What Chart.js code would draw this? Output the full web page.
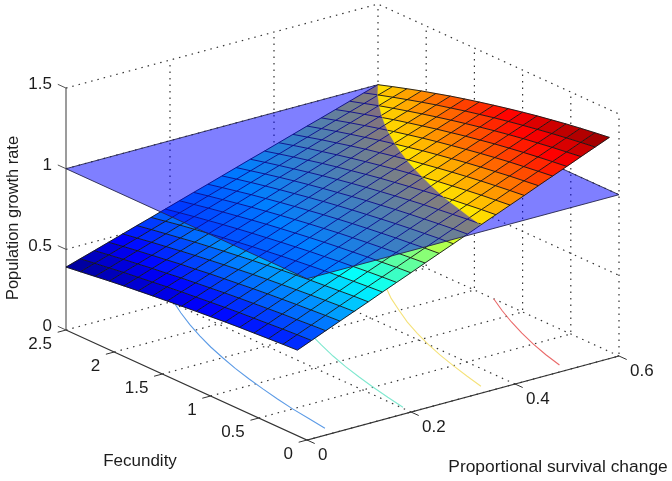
<!DOCTYPE html>
<html>
<head>
<meta charset="utf-8">
<title>Population growth rate</title>
<script src="https://cdn.jsdelivr.net/npm/chart.js@4"></script>
<style>
  html, body { margin: 0; padding: 0; background: #fff; }
  canvas { display: block; }
</style>
</head>
<body>
<canvas id="surfaceChart" width="672" height="481"></canvas>
<script>
// Values
const survival = [0, .0273, .0545, .0818, .1091, .1364, .1636, .1909, .2182, .2455, .2727, .3,
  .3273, .3545, .3818, .4091, .4364, .4636, .4909, .5182, .5455, .5727, .6];
const fecundity = [0.1, 0.25, 0.4, 0.55, 0.7, 0.85, 1, 1.15, 1.3, 1.45, 1.6, 1.75, 1.9, 2.05, 2.2, 2.35, 2.5];

// growth[fecundity index][survival index]
const growth = [
  [.530,.566,.603,.639,.675,.711,.748,.784,.820,.857,.893,.929,.965,1.002,1.038,1.074,1.110,1.147,1.183,1.219,1.256,1.292,1.328],
  [.525,.561,.597,.633,.669,.705,.741,.777,.813,.849,.885,.921,.957,.993,1.029,1.064,1.100,1.136,1.172,1.208,1.244,1.280,1.316],
  [.519,.555,.590,.626,.662,.697,.733,.769,.804,.840,.875,.911,.947,.982,1.018,1.054,1.089,1.125,1.160,1.196,1.232,1.267,1.303],
  [.513,.548,.584,.619,.654,.689,.725,.760,.795,.830,.866,.901,.936,.971,1.007,1.042,1.077,1.112,1.148,1.183,1.218,1.253,1.289],
  [.507,.541,.576,.611,.646,.681,.716,.751,.785,.820,.855,.890,.925,.960,.995,1.029,1.064,1.099,1.134,1.169,1.204,1.238,1.273],
  [.500,.534,.568,.603,.637,.672,.706,.740,.775,.809,.844,.878,.913,.947,.981,1.016,1.050,1.085,1.119,1.154,1.188,1.222,1.257],
  [.492,.526,.560,.594,.628,.662,.696,.730,.764,.798,.832,.865,.899,.933,.967,1.001,1.035,1.069,1.103,1.137,1.171,1.205,1.239],
  [.484,.517,.551,.584,.618,.651,.685,.718,.752,.785,.819,.852,.886,.919,.952,.986,1.019,1.053,1.086,1.120,1.153,1.187,1.220],
  [.475,.508,.541,.574,.607,.640,.673,.706,.739,.772,.805,.838,.871,.904,.937,.970,1.003,1.036,1.069,1.101,1.134,1.167,1.200],
  [.466,.499,.531,.564,.596,.628,.661,.693,.726,.758,.790,.823,.855,.888,.920,.952,.985,1.017,1.050,1.082,1.114,1.147,1.179],
  [.457,.489,.521,.552,.584,.616,.648,.680,.712,.743,.775,.807,.839,.871,.902,.934,.966,.998,1.030,1.061,1.093,1.125,1.157],
  [.447,.478,.509,.541,.572,.603,.634,.666,.697,.728,.759,.790,.822,.853,.884,.915,.947,.978,1.009,1.040,1.071,1.103,1.134],
  [.437,.467,.498,.528,.559,.590,.620,.651,.681,.712,.742,.773,.804,.834,.865,.895,.926,.956,.987,1.018,1.048,1.079,1.109],
  [.426,.456,.485,.515,.545,.575,.605,.635,.665,.695,.725,.755,.785,.814,.844,.874,.904,.934,.964,.994,1.024,1.054,1.084],
  [.414,.443,.473,.502,.531,.560,.590,.619,.648,.677,.706,.736,.765,.794,.823,.853,.882,.911,.940,.969,.999,1.028,1.057],
  [.402,.431,.459,.488,.516,.545,.573,.602,.630,.659,.687,.716,.744,.773,.801,.830,.858,.887,.915,.944,.972,1.001,1.029],
  [.390,.418,.445,.473,.501,.529,.556,.584,.612,.640,.667,.695,.723,.751,.778,.806,.834,.862,.889,.917,.945,.973,1.000]
];

// Contours on the floor: survival value at each fecundity
const contourFecundity = [0.1, 0.3, 0.5, 0.7, 0.9, 1.1, 1.3, 1.5, 1.7, 1.9, 2.1, 2.3, 2.5];
const contour06 = [.053, .059, .065, .073, .082, .092, .103, .116, .130, .146, .164, .184, .206];
const contour08 = [.203, .211, .220, .230, .241, .254, .269, .285, .304, .324, .347, .374, .403];
const contour10 = [.353, .363, .374, .386, .400, .416, .434, .455, .477, .503, .531, .563, .600];
const contour12 = [.504, .515, .528, .543, .560, .579, .600];

const planeSurvival = [0, 0.6, 0.6, 0];
const planeFecundity = [0, 0, 2.5, 2.5];
const planeLevel = 1;

const survivalTicks = [0, 0.2, 0.4, 0.6];
const fecundityTicks = [0, 0.5, 1, 1.5, 2, 2.5];
const growthTicks = [0, 0.5, 1, 1.5];

const survivalLabels = ["0", "0.2", "0.4", "0.6"];
const fecundityLabels = ["0", "0.5", "1", "1.5", "2", "2.5"];
const growthLabels = ["0", "0.5", "1", "1.5"];

const colorMin = 0.37;
const colorMax = 1.327;

// fixed 3d view, same for everything on the page
function project(s, f, z) {
  return {
    x: 307 + 520 * s - 96.4 * f,
    y: 440 - 140 * s - 44 * f - 161.3 * z
  };
}

function jet(v) {
  const t = Math.min(1, Math.max(0, (v - colorMin) / (colorMax - colorMin)));
  const r = Math.min(1, Math.max(0, Math.min(4 * t - 1.5, 4.5 - 4 * t)));
  const g = Math.min(1, Math.max(0, Math.min(4 * t - 0.5, 3.5 - 4 * t)));
  const b = Math.min(1, Math.max(0, Math.min(4 * t + 0.5, 2.5 - 4 * t)));
  return "rgb(" + Math.round(r * 255) + "," + Math.round(g * 255) + "," + Math.round(b * 255) + ")";
}

// Layers are collected bottom first
const layers = [];

function addLine(points, color, width, dash) {
  layers.push({
    data: points.map(p => project(p[0], p[1], p[2])),
    showLine: true,
    fill: false,
    borderColor: color,
    borderWidth: width,
    borderDash: dash || [],
    pointRadius: 0
  });
}

function addShape(points, color, edge, width) {
  const closed = points.concat([points[0]]);
  layers.push({
    data: closed.map(p => project(p[0], p[1], p[2])),
    showLine: true,
    fill: "shape",
    backgroundColor: color,
    borderColor: edge,
    borderWidth: width,
    pointRadius: 0
  });
}

function crossing(a, b) {
  const t = (planeLevel - a[2]) / (b[2] - a[2]);
  return [a[0] + t * (b[0] - a[0]), a[1] + t * (b[1] - a[1]), planeLevel];
}

// keep the part of a cell on one side of the flat plane
function clipCell(points, above) {
  const keep = p => above ? p[2] >= planeLevel : p[2] <= planeLevel;
  const out = [];
  points.forEach((p, i) => {
    const q = points[(i + 1) % points.length];
    if (keep(p)) out.push(p);
    if (keep(p) !== keep(q)) out.push(crossing(p, q));
  });
  return out;
}

function clipRun(points, above) {
  const keep = p => above ? p[2] >= planeLevel : p[2] <= planeLevel;
  const out = [];
  points.forEach((p, i) => {
    if (keep(p)) out.push(p);
    if (i < points.length - 1 && keep(p) !== keep(points[i + 1])) out.push(crossing(p, points[i + 1]));
  });
  return out;
}

function addSurfacePart(above) {
  // flat coloured cells
  for (let j = 0; j < fecundity.length - 1; j++) {
    for (let i = 0; i < survival.length - 1; i++) {
      const cell = [
        [survival[i], fecundity[j], growth[j][i]],
        [survival[i + 1], fecundity[j], growth[j][i + 1]],
        [survival[i + 1], fecundity[j + 1], growth[j + 1][i + 1]],
        [survival[i], fecundity[j + 1], growth[j + 1][i]]
      ];
      const part = clipCell(cell, above);
      const color = jet(growth[j][i]);
      if (part.length > 2) addShape(part, color, color, 0.4);
    }
  }
  // mesh lines
  for (let j = 0; j < fecundity.length; j++) {
    const run = clipRun(survival.map((s, i) => [s, fecundity[j], growth[j][i]]), above);
    if (run.length > 1) addLine(run, "#141414", 0.9);
  }
  for (let i = 0; i < survival.length; i++) {
    const run = clipRun(fecundity.map((f, j) => [survival[i], f, growth[j][i]]), above);
    if (run.length > 1) addLine(run, "#141414", 0.9);
  }
}

// dotted grid
const dots = [1.5, 5];
const gridColor = "#333333";
const topZ = growthTicks[growthTicks.length - 1];
const lastS = survivalTicks[survivalTicks.length - 1];
const lastF = fecundityTicks[fecundityTicks.length - 1];

survivalTicks.forEach(s => {
  if (s > 0) addLine([[s, 0, 0], [s, lastF, 0], [s, lastF, topZ]], gridColor, 1.2, dots);
});
fecundityTicks.forEach(f => {
  if (f < lastF) addLine([[0, f, 0], [lastS, f, 0], [lastS, f, topZ]], gridColor, 1.2, dots);
});
growthTicks.forEach(z => {
  if (z > 0) addLine([[0, lastF, z], [lastS, lastF, z], [lastS, 0, z]], gridColor, 1.2, dots);
});
addLine([[0, lastF, 0], [lastS, lastF, 0]], gridColor, 1.2, dots);

// contours on the floor
addLine(contour06.map((s, k) => [s, contourFecundity[k], 0]), "#5c9be6", 1.1);
addLine(contour08.map((s, k) => [s, contourFecundity[k], 0]), "#7fe8cf", 1.1);
addLine(contour10.map((s, k) => [s, contourFecundity[k], 0]), "#f5e27a", 1.1);
addLine(contour12.map((s, k) => [s, contourFecundity[k], 0]), "#ea6a6a", 1.1);

// axes and tick marks
addLine([[0, lastF, 0], [0, lastF, topZ]], "#5a5a5a", 1.2);
addLine([[0, lastF, 0], [0, 0, 0], [lastS, 0, 0]], "#333333", 1.2);
growthTicks.forEach(z => addLine([[0, lastF, z], [0, lastF + 0.085, z]], "#555555", 1));
fecundityTicks.forEach(f => addLine([[0, f, 0], [-0.016, f, 0]], "#333333", 1));
survivalTicks.forEach(s => addLine([[s, 0, 0], [s, -0.08, 0]], "#333333", 1));

// surface under the plane, then the plane, then surface above it
addSurfacePart(false);
addShape(planeSurvival.map((s, k) => [s, planeFecundity[k], planeLevel]),
  "rgba(0,0,255,0.5)", "#26264d", 0.9);
addSurfacePart(true);

// Tick labels and axis titles
const labelsPlugin = {
  id: "labels3d",
  afterDraw(chart) {
    const { ctx, scales } = chart;
    const at = p => ({ x: scales.x.getPixelForValue(p.x), y: scales.y.getPixelForValue(p.y) });
    ctx.save();
    ctx.fillStyle = "#1c1c1c";
    ctx.font = "17px 'Liberation Sans'";
    ctx.textBaseline = "middle";

    ctx.textAlign = "right";
    growthTicks.forEach((z, k) => {
      const p = at(project(0, lastF, z));
      ctx.fillText(growthLabels[k], p.x - 14, p.y - 3.5);
    });
    fecundityTicks.forEach((f, k) => {
      const p = at(project(0, f, 0));
      ctx.fillText(fecundityLabels[k], p.x - 14, p.y + 14);
    });

    ctx.textAlign = "left";
    survivalTicks.forEach((s, k) => {
      const p = at(project(s, 0, 0));
      ctx.fillText(survivalLabels[k], p.x + 11, p.y + 15);
    });

    ctx.textAlign = "center";
    ctx.fillText("Fecundity", 140, 461);
    ctx.font = "17.4px 'Liberation Sans'";
    ctx.fillText("Proportional survival change", 558, 467);
    ctx.font = "16.4px 'Liberation Sans'";
    ctx.translate(13, 218);
    ctx.rotate(-Math.PI / 2);
    ctx.fillText("Population growth rate", 0, 0);
    ctx.restore();
  }
};

document.addEventListener("DOMContentLoaded", () => {
  new Chart(document.getElementById("surfaceChart"), {
    type: "scatter",
    data: { datasets: layers.slice().reverse() },  // first dataset is painted last
    options: {
      responsive: false,
      animation: false,
      parsing: false,
      layout: { padding: 0 },
      plugins: { legend: { display: false }, tooltip: { enabled: false } },
      scales: {
        x: { type: "linear", display: false, min: 0, max: 672 },
        y: { type: "linear", display: false, min: 0, max: 481, reverse: true }
      }
    },
    plugins: [labelsPlugin]
  });
});
</script>
</body>
</html>
